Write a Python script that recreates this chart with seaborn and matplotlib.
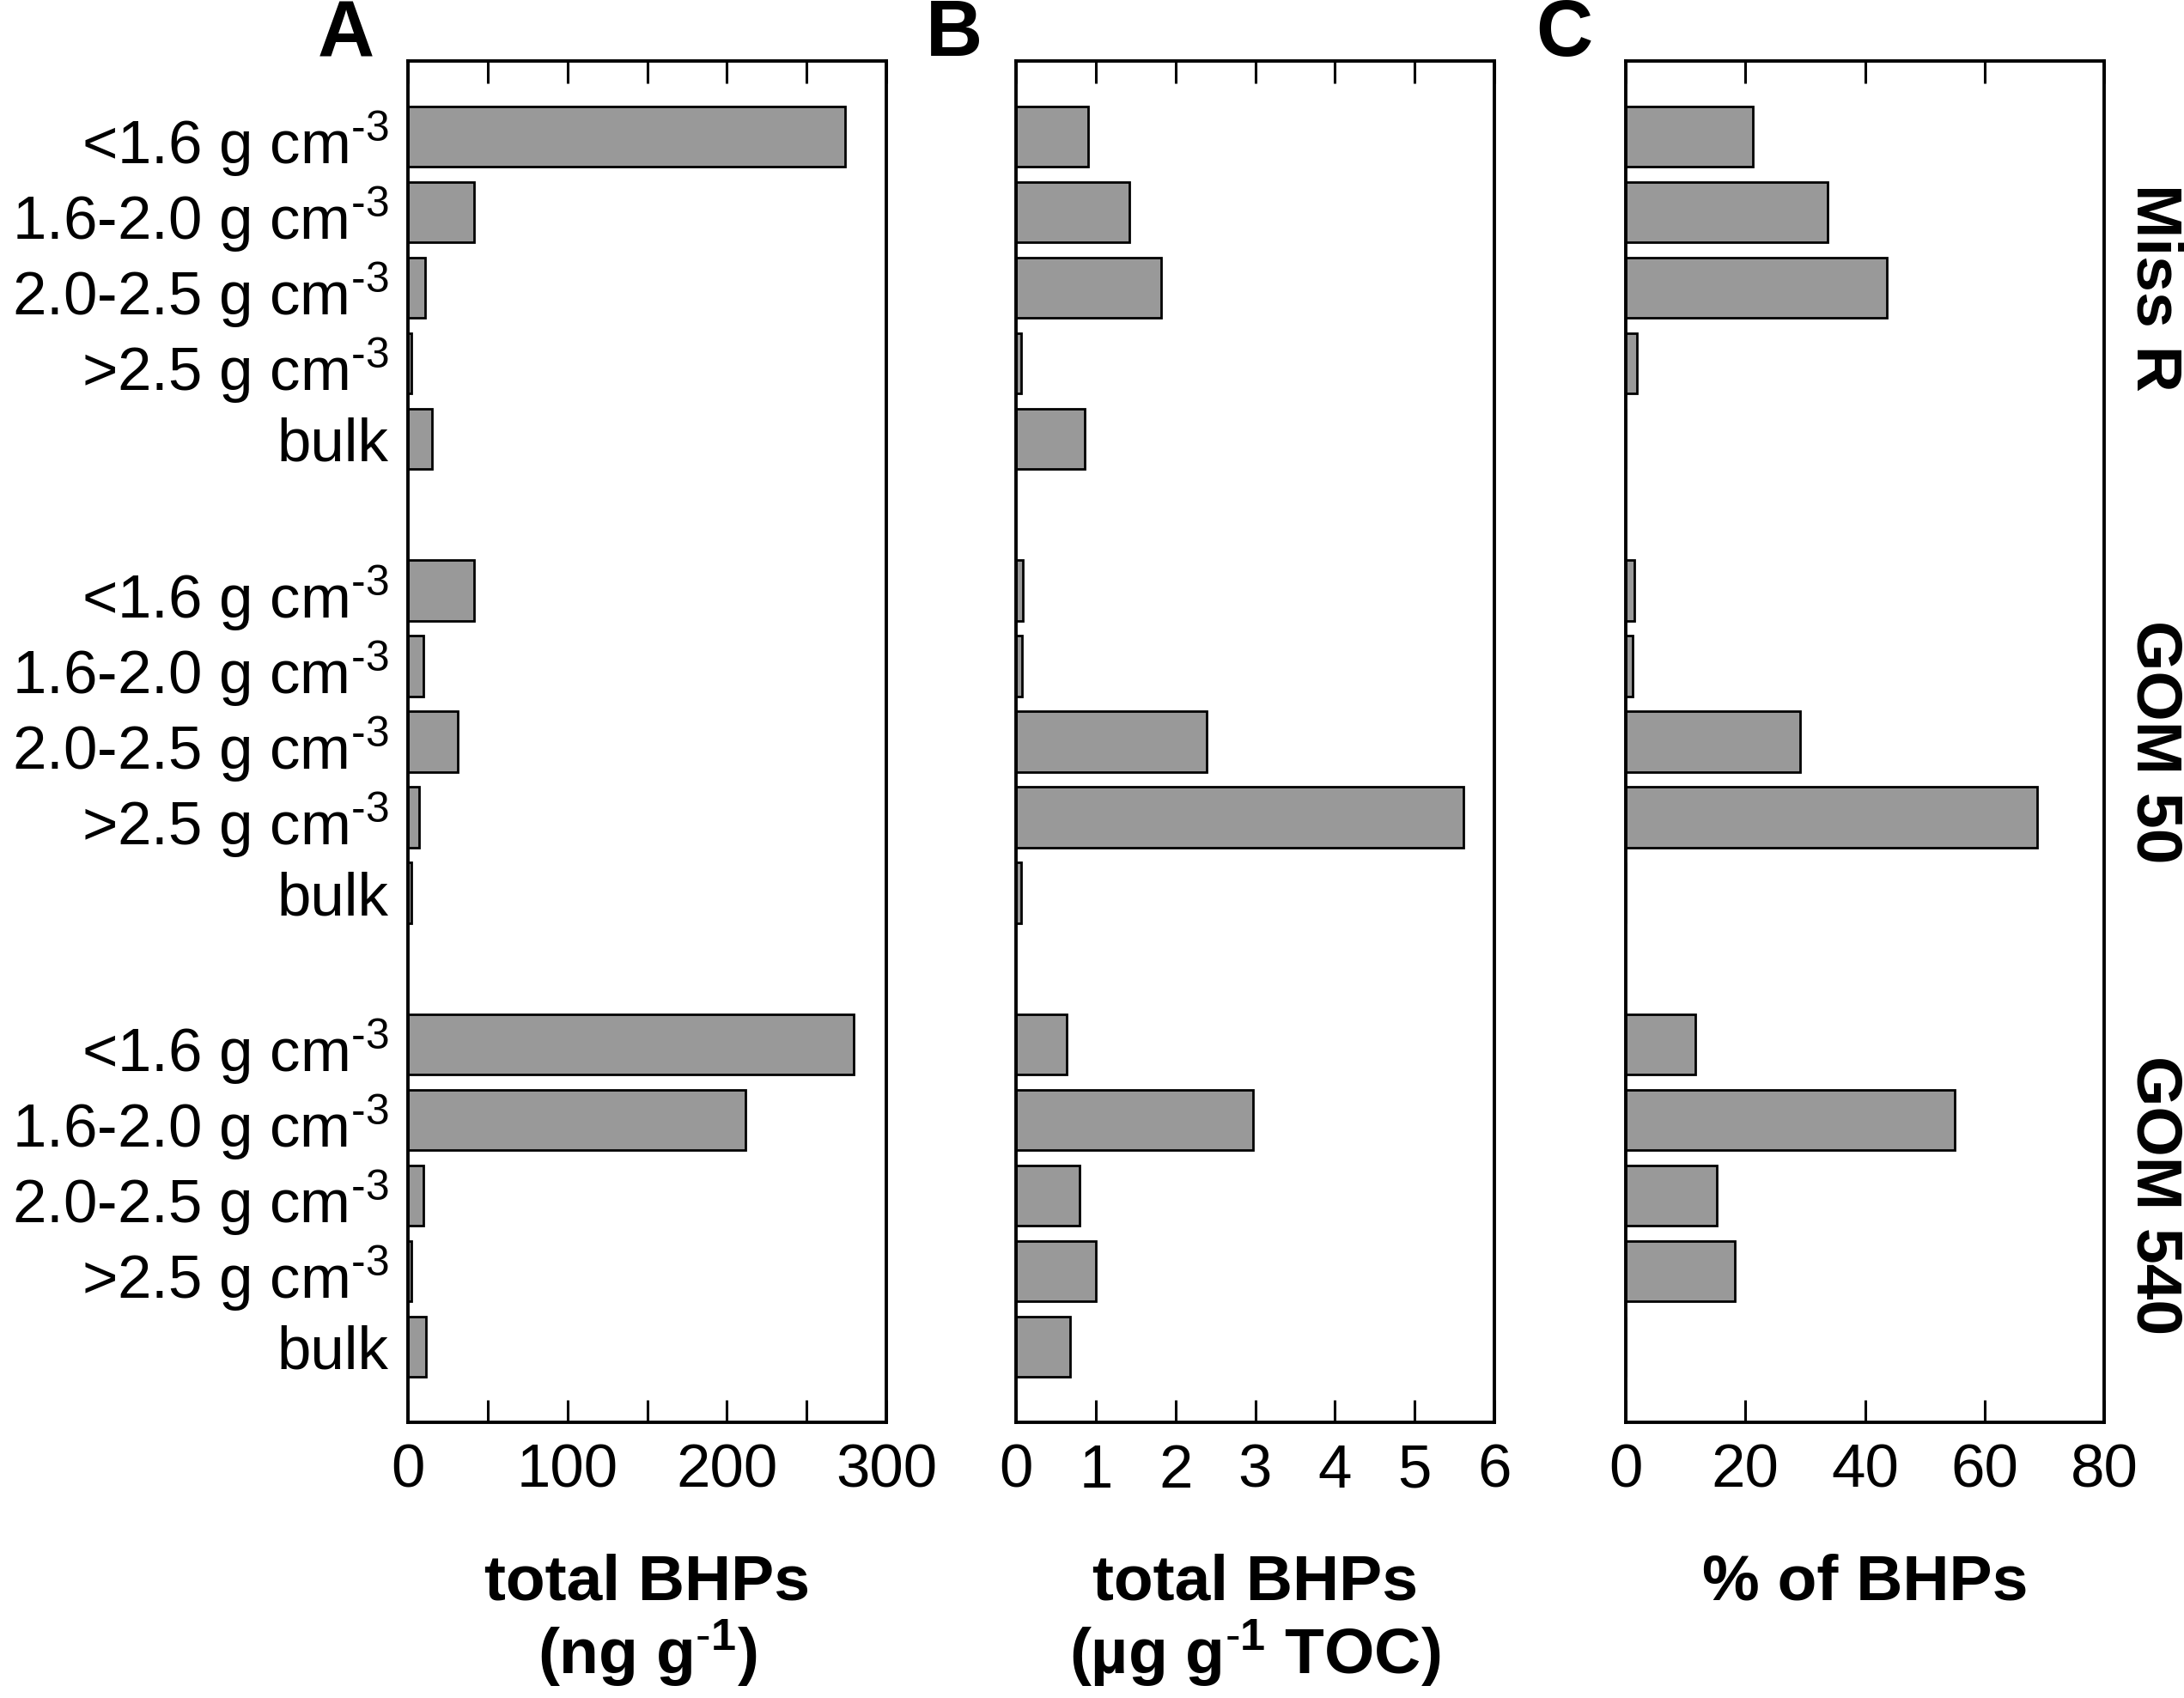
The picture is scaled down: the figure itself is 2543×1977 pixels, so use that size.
import numpy as np
import pandas as pd
import matplotlib
matplotlib.use("Agg")
import matplotlib.pyplot as plt
from matplotlib.ticker import MultipleLocator, FixedLocator
import seaborn as sns

# ---- data ----
groups = ["Miss R", "GOM 50", "GOM 540"]
fractions = [r"<1.6 g cm$^{\text{-}3}$", r"1.6-2.0 g cm$^{\text{-}3}$", r"2.0-2.5 g cm$^{\text{-}3}$",
             r">2.5 g cm$^{\text{-}3}$", "bulk"]

# panel A: total BHPs (ng g-1)
bhp_ng_missr = [274, 41.5, 10.7, 1.9, 14.9]
bhp_ng_gom50 = [41.5, 9.5, 31.4, 6.9, 2.4]
bhp_ng_gom540 = [279.8, 211.8, 9.9, 2.4, 11.4]

# panel B: total BHPs (ug g-1 TOC)
bhp_toc_missr = [0.90, 1.42, 1.82, 0.07, 0.86]
bhp_toc_gom50 = [0.09, 0.08, 2.39, 5.61, 0.06]
bhp_toc_gom540 = [0.64, 2.97, 0.80, 1.00, 0.68]

# panel C: % of BHPs
pct_missr = [21.2, 33.7, 43.6, 1.8, 0.0]
pct_gom50 = [1.4, 1.2, 29.2, 68.8, 0.0]
pct_gom540 = [11.7, 55.0, 15.2, 18.3, 0.0]

xlabels = ["total BHPs\n(ng g$^{\\text{-}1}$)", "total BHPs\n(µg g$^{\\text{-}1}$ TOC)", "% of BHPs"]
panel_letters = ["A", "B", "C"]
xmax = [300, 6, 80]
major_ticks = [[0, 100, 200, 300], [0, 1, 2, 3, 4, 5, 6], [0, 20, 40, 60, 80]]
minor_step = [50, 1, 20]

panels = [
    [bhp_ng_missr, bhp_ng_gom50, bhp_ng_gom540],
    [bhp_toc_missr, bhp_toc_gom50, bhp_toc_gom540],
    [pct_missr, pct_gom50, pct_gom540],
]

# ---- style ----
sns.set_theme(style="ticks")
plt.rcParams["font.family"] = ["Liberation Sans", "DejaVu Sans"]
plt.rcParams["mathtext.fontset"] = "custom"
plt.rcParams["mathtext.rm"] = "Liberation Sans"
plt.rcParams["mathtext.it"] = "Liberation Sans"
plt.rcParams["mathtext.bf"] = "Liberation Sans:bold"
plt.rcParams["mathtext.default"] = "regular"
for key in ["text.color", "axes.labelcolor", "xtick.color", "ytick.color",
            "xtick.labelcolor", "ytick.labelcolor", "axes.edgecolor"]:
    plt.rcParams[key] = "black"

W, H = 2543, 1977
fig = plt.figure(figsize=(W / 200, H / 200), dpi=200)
fig.patch.set_facecolor("white")

lefts = [475, 1183, 1893]
ax_w = 557
top_px, bot_px = 71, 1656

for k in range(3):
    rows = []
    for g, vals in enumerate(panels[k]):
        for i, v in enumerate(vals):
            rows.append({"pos": g * 6 + i, "value": v, "frac": fractions[i], "group": groups[g]})
    df = pd.DataFrame(rows)

    ax = fig.add_axes([lefts[k] / W, 1 - bot_px / H, ax_w / W, (bot_px - top_px) / H])
    sns.barplot(data=df, x="value", y="pos", orient="h", native_scale=True,
                color="#999999", saturation=1, edgecolor="black", linewidth=1.0,
                width=0.8, ax=ax, errorbar=None)
    ax.set_facecolor("white")
    ax.set_xlim(0, xmax[k])
    ax.set_ylim(17, -1)

    ax.xaxis.set_major_locator(FixedLocator(major_ticks[k]))
    ax.xaxis.set_minor_locator(MultipleLocator(minor_step[k]))
    ax.tick_params(axis="x", which="both", direction="in", top=True, bottom=True,
                   length=9.5, width=1.1, color="black", labelcolor="black",
                   labelsize=25.5, pad=9)
    ax.tick_params(axis="y", which="both", length=0, pad=8, labelsize=25.5,
                   labelcolor="black")

    if k == 0:
        ax.set_yticks(df["pos"].tolist())
        ax.set_yticklabels(df["frac"].tolist())
    else:
        ax.set_yticks([])
    ax.set_ylabel("")
    ax.set_xlabel(xlabels[k], fontsize=27, fontweight="bold", labelpad=22,
                  linespacing=1.1, color="black")
    ax.xaxis.label.set_verticalalignment("top")

    for s in ax.spines.values():
        s.set_visible(True)
        s.set_linewidth(1.4)
        s.set_color("black")

    fig.text((lefts[k] - 72) / W, 1 - 41 / H, panel_letters[k], fontsize=33,
             fontweight="bold", ha="center", va="center", color="black")

    if k == 2:
        for g, name in enumerate(groups):
            ax.text(1.105, g * 6 + 2, name, transform=ax.get_yaxis_transform(),
                    rotation=-90, fontsize=27, fontweight="bold",
                    ha="center", va="center", color="black")

fig.savefig("out.png", dpi=200, facecolor="white")
